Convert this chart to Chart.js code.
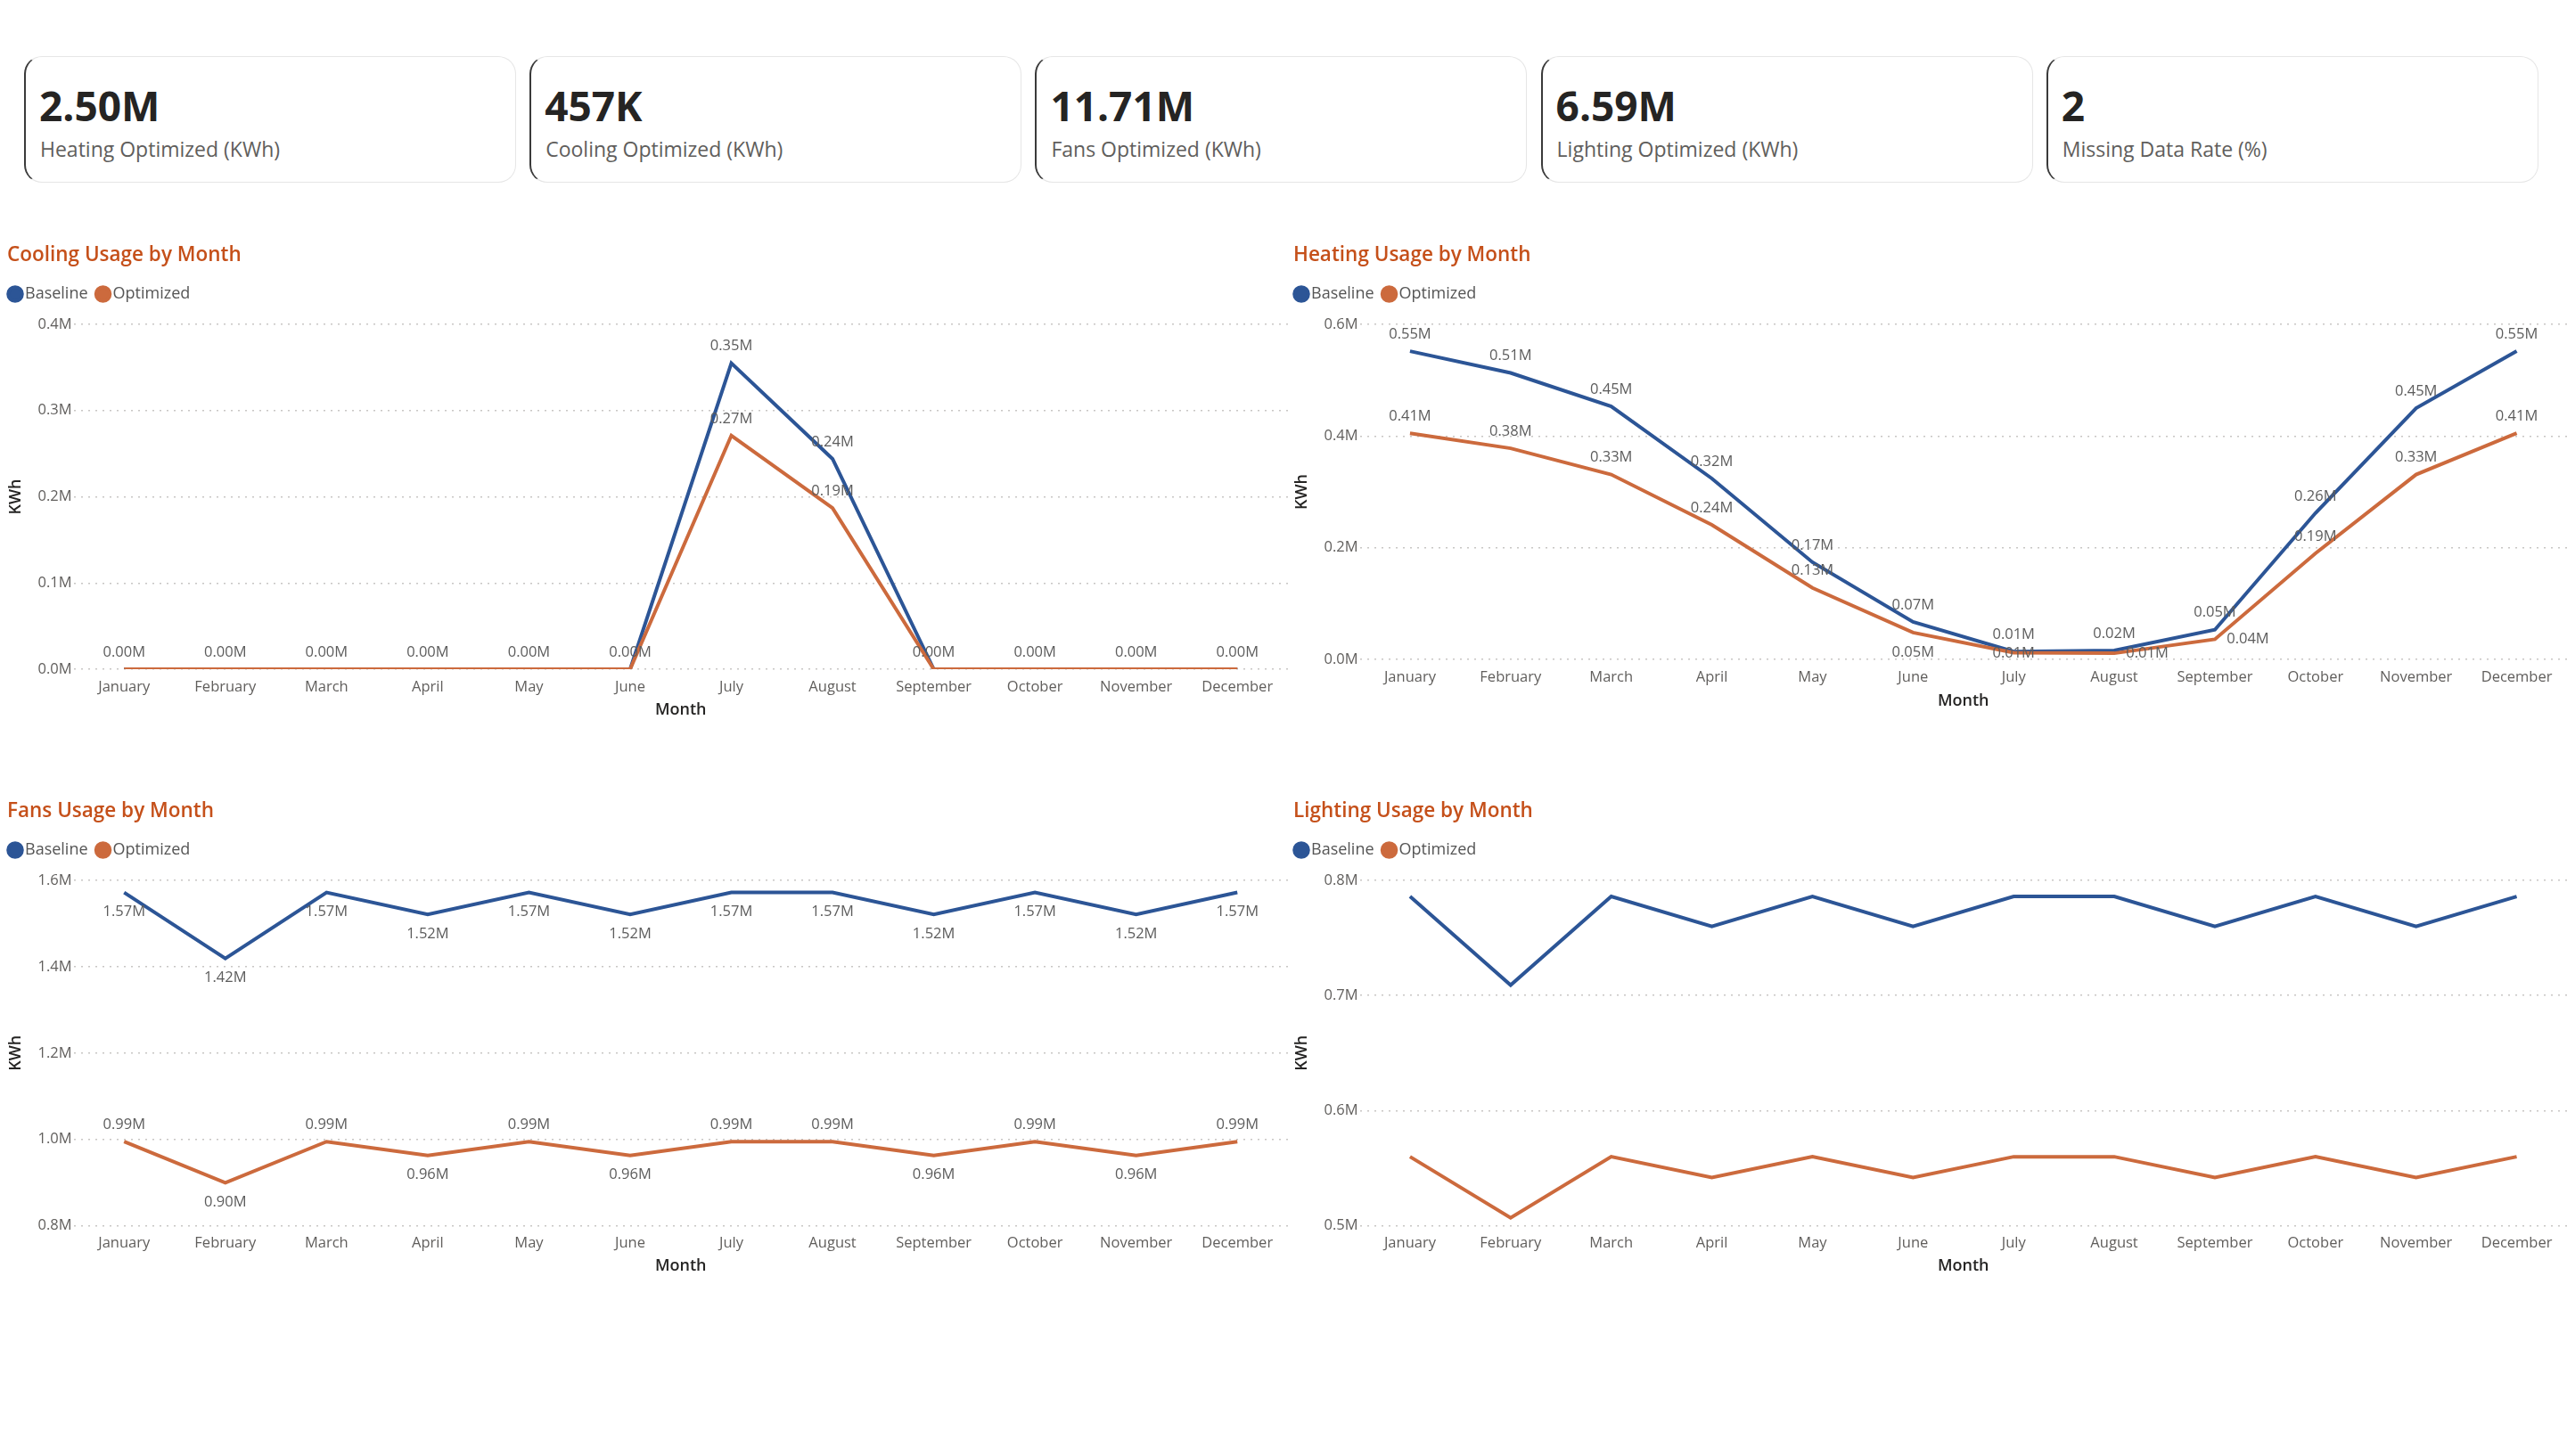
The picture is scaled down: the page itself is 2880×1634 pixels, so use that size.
<!DOCTYPE html>
<html>
<head>
<meta charset="utf-8">
<script src="https://cdn.jsdelivr.net/npm/chart.js@4.4.1/dist/chart.umd.min.js"></script>
<style>
  html, body { margin: 0; padding: 0; background: #fff; }
  body { width: 2880px; height: 1634px; position: relative; overflow: hidden; font-family: 'Open Sans', sans-serif; }
  .card {
    position: absolute; top: 63px; width: 552px; height: 142px; box-sizing: border-box;
    border: 1px solid #e6e6e6; border-left: 2px solid #3a3a3a; border-radius: 20px; background: #fff;
  }
  .card .val { position: absolute; left: 15px; top: 31px; font-size: 46px; line-height: 1; font-weight: 700; color: #252423; }
  .card .lbl { position: absolute; left: 16px; top: 92px; font-size: 23px; line-height: 1; color: #605e5c; }
  canvas { position: absolute; }
</style>
</head>
<body>
<div id="kpis"></div>
<canvas id="cooling"></canvas>
<canvas id="heating"></canvas>
<canvas id="fans"></canvas>
<canvas id="lighting"></canvas>
<script>
/* ── Data ─────────────────────────────────────────────────────── */
const months = ['January', 'February', 'March', 'April', 'May', 'June',
  'July', 'August', 'September', 'October', 'November', 'December'];

const kpiValues = ['2.50M', '457K', '11.71M', '6.59M', '2'];
const kpiLabels = ['Heating Optimized (KWh)', 'Cooling Optimized (KWh)', 'Fans Optimized (KWh)',
  'Lighting Optimized (KWh)', 'Missing Data Rate (%)'];

const coolingBaseline  = [0, 0, 0, 0, 0, 0, 355000, 244000, 0, 0, 0, 0];
const coolingOptimized = [0, 0, 0, 0, 0, 0, 271000, 187000, 0, 0, 0, 0];

const heatingBaseline  = [552000, 513000, 453000, 324000, 174000, 67000, 14000, 16000, 53000, 262000, 450000, 552000];
const heatingOptimized = [405000, 378000, 331000, 241000, 128000, 48000, 12000, 11000, 36000, 190000, 331000, 405000];

const fansBaseline  = [1572000, 1419000, 1572000, 1521000, 1572000, 1521000, 1572000, 1572000, 1521000, 1572000, 1521000, 1572000];
const fansOptimized = [995000, 900000, 995000, 963000, 995000, 963000, 995000, 995000, 963000, 995000, 963000, 995000];

const lightingBaseline  = [786000, 709000, 786000, 760000, 786000, 760000, 786000, 786000, 760000, 786000, 760000, 786000];
const lightingOptimized = [560000, 507000, 560000, 542000, 560000, 542000, 560000, 560000, 542000, 560000, 542000, 560000];

const BLUE   = '#2c5596';
const ORANGE = '#cc6a3d';
const FONT   = "'Open Sans', sans-serif";

/* ── KPI cards ────────────────────────────────────────────────── */
const kpiBox = document.getElementById('kpis');
kpiValues.forEach((v, i) => {
  const c = document.createElement('div');
  c.className = 'card';
  c.style.left = (27 + i * 567.2) + 'px';
  c.innerHTML = '<div class="val">' + v + '</div><div class="lbl">' + kpiLabels[i] + '</div>';
  kpiBox.appendChild(c);
});

/* ── Helpers ──────────────────────────────────────────────────── */
const fmtM = (v, d) => (v / 1e6).toFixed(d) + 'M';

function isLocalMin(arr, i) {
  const nb = [arr[i - 1], arr[i + 1]].filter(x => x !== undefined);
  return nb.every(x => arr[i] < x);
}

// Power BI-ish data labels: above, or below when crowded / at a dip;
// near the floor they get clamped, then pushed to the right
const valueLabels = {
  id: 'valueLabels',
  afterDatasetsDraw(chart, args, opts) {
    if (!opts.show) return;
    const { ctx, chartArea } = chart;
    const sets = chart.data.datasets;
    ctx.save();
    ctx.font = '16.5px ' + FONT;
    ctx.fillStyle = '#5c5c5c';
    ctx.textAlign = 'center';
    ctx.textBaseline = 'middle';
    sets.forEach((ds, d) => {
      const pts = chart.getDatasetMeta(d).data;
      const oth = chart.getDatasetMeta(1 - d).data;
      let squeezed = false;
      ds.data.forEach((v, i) => {
        const p = pts[i], o = oth[i];
        const text = fmtM(v, 2);
        if (d === 1 && v === sets[0].data[i]) return;   // identical point, one label is enough
        const gap = o.y - p.y;
        let below;
        if (gap > 0 && gap < 22) below = false;
        else if (gap < 0 && gap > -22) below = true;
        else if (p.y - chartArea.top < 28) below = true;
        else below = isLocalMin(ds.data, i);

        const floor = chartArea.bottom - 7;
        if (!below) { ctx.fillText(text, p.x, p.y - 19); squeezed = false; }
        else if (p.y + 22 <= floor) { ctx.fillText(text, p.x, p.y + 22); squeezed = false; }
        else if (!squeezed) { ctx.fillText(text, p.x, floor); squeezed = true; }
        else ctx.fillText(text, p.x + 37, p.y);
      });
    });
    ctx.restore();
  }
};

// extra room under the legend, and nudge the title off the edge
const spacing = {
  id: 'spacing',
  afterInit(chart, args, opts) {
    const fit = chart.legend.fit;
    chart.legend.fit = function () {
      fit.call(chart.legend);
      this.height += opts.legendExtra;
    };
  },
  afterLayout(chart) {
    chart.titleBlock.left += 8;
    chart.titleBlock.right += 8;
  }
};

/* ── Chart factory ────────────────────────────────────────────── */
function makeChart(id, box, title, base, opt, yMin, yMax, step, labels) {
  const cv = document.getElementById(id);
  cv.width = box.w; cv.height = box.h;
  cv.style.left = box.x + 'px'; cv.style.top = box.y + 'px';
  cv.style.width = box.w + 'px'; cv.style.height = box.h + 'px';

  return new Chart(cv, {
    type: 'line',
    data: {
      labels: months,
      datasets: [
        // optimized is painted over baseline (lower order = drawn last)
        { label: 'Baseline', data: base, borderColor: BLUE, backgroundColor: BLUE,
          borderWidth: 4, pointRadius: 0, tension: 0, order: 2 },
        { label: 'Optimized', data: opt, borderColor: ORANGE, backgroundColor: ORANGE,
          borderWidth: 4, pointRadius: 0, tension: 0, order: 1 },
      ],
    },
    plugins: [valueLabels, spacing],
    options: {
      responsive: false,
      devicePixelRatio: 1,
      animation: false,
      layout: { padding: 0 },
      plugins: {
        title: {
          display: true, text: title, align: 'start', color: '#c5501a',
          font: { family: FONT, size: 22.5, weight: '600' },
          padding: { top: 11.5, bottom: 5.5 },
        },
        legend: {
          display: true, position: 'top', align: 'start',
          labels: {
            usePointStyle: true, pointStyle: 'circle', boxWidth: 4, boxHeight: 11,
            padding: 15, color: '#555', font: { family: FONT, size: 18 },
            sort: (a, b) => a.datasetIndex - b.datasetIndex,
          },
        },
        tooltip: { enabled: false },
        valueLabels: { show: labels },
        spacing: { legendExtra: box.legendExtra },
      },
      scales: {
        x: {
          offset: true,
          grid: { display: false },
          border: { display: false },
          ticks: { color: '#605e5c', font: { family: FONT, size: 16.5 }, padding: 2,
            autoSkip: false, maxRotation: 0 },
          title: { display: true, text: 'Month', color: '#252423',
            font: { family: FONT, size: 18, weight: '600' }, padding: { top: 0, bottom: 4.2 } },
          afterFit: s => { s.height = box.xh; },
        },
        y: {
          min: yMin, max: yMax,
          grid: { color: '#c8c6c4', lineWidth: 1.5, drawTicks: false },
          border: { display: false, dash: [2, 6] },
          ticks: { stepSize: step, color: '#605e5c', font: { family: FONT, size: 16.5 }, padding: 2,
            callback: v => fmtM(v, 1) },
          title: { display: true, text: 'KWh', color: '#252423',
            font: { family: FONT, size: 18, weight: '600' }, padding: { top: 7.2, bottom: 0 } },
          afterFit: s => { s.width = 82.5; },
        },
      },
    },
  });
}

const leftBox  = { x: 0,    w: 1445 };
const rightBox = { x: 1443, w: 1437 };

makeChart('cooling',  { ...leftBox,  y: 262, h: 550, xh: 61, legendExtra: 15 },
  'Cooling Usage by Month', coolingBaseline, coolingOptimized, 0, 400000, 100000, true);
makeChart('heating',  { ...rightBox, y: 262, h: 540, xh: 62, legendExtra: 15 },
  'Heating Usage by Month', heatingBaseline, heatingOptimized, 0, 600000, 200000, true);
makeChart('fans',     { ...leftBox,  y: 886, h: 550, xh: 60.3, legendExtra: 15 },
  'Fans Usage by Month', fansBaseline, fansOptimized, 800000, 1600000, 200000, true);
makeChart('lighting', { ...rightBox, y: 886, h: 550, xh: 60.3, legendExtra: 15 },
  'Lighting Usage by Month', lightingBaseline, lightingOptimized, 500000, 800000, 100000, false);
</script>
</body>
</html>
